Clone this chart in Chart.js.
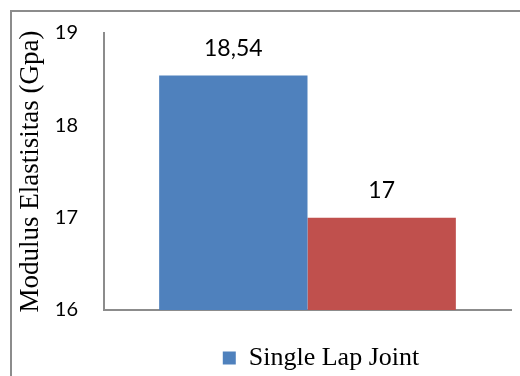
<!DOCTYPE html>
<html>
<head>
<meta charset="utf-8">
<script src="https://cdn.jsdelivr.net/npm/chart.js@4/dist/chart.umd.min.js"></script>
<style>
  html, body { margin: 0; padding: 0; background: #fff; overflow: hidden; width: 520px; height: 376px; }
  #frame { position: absolute; left: 10px; top: 10px; border: 2px solid #8c8c8c; width: 618px; height: 400px; }
  canvas { display: block; }
</style>
</head>
<body>
<div id="frame"><canvas id="c" width="618" height="400"></canvas></div>
<script>
// Categories and series
const categories = ['Modulus Elastisitas'];
const seriesNames = ['Single Lap Joint', 'Double Lap Joint'];
const singleLapValues = [18.54];
const doubleLapValues = [17];
const yTicks = [16, 17, 18, 19];

const serif = "'Liberation Serif', 'Times New Roman', serif";
const sans = "Lato, 'Open Sans', sans-serif";

// Writes each bar's value above it, with a decimal comma
const valueLabels = {
  id: 'valueLabels',
  afterDatasetsDraw(chart) {
    const ctx = chart.ctx;
    ctx.save();
    ctx.font = '23px ' + sans;
    ctx.fillStyle = '#000';
    ctx.textAlign = 'center';
    ctx.textBaseline = 'middle';
    chart.data.datasets.forEach((ds, di) => {
      chart.getDatasetMeta(di).data.forEach((bar, i) => {
        const txt = String(ds.data[i]).replace('.', ',');
        ctx.fillText(txt, bar.x, bar.y - 27);
      });
    });
    ctx.restore();
  }
};

new Chart(document.getElementById('c'), {
  type: 'bar',
  data: {
    labels: categories,
    datasets: [
      { label: seriesNames[0], data: singleLapValues, backgroundColor: '#4f81bd', borderWidth: 0 },
      { label: seriesNames[1], data: doubleLapValues, backgroundColor: '#c0504d', borderWidth: 0 }
    ]
  },
  options: {
    responsive: false,
    animation: false,
    devicePixelRatio: 1,
    categoryPercentage: 0.729,
    barPercentage: 1,
    layout: { padding: { left: 0, right: 0, top: 21, bottom: 31 } },
    plugins: {
      tooltip: { enabled: false },
      legend: {
        position: 'bottom',
        labels: {
          filter: item => item.datasetIndex === 0,
          font: { family: serif, size: 26 },
          color: '#000',
          boxWidth: 13,
          boxHeight: 13,
          padding: 35
        }
      }
    },
    scales: {
      x: {
        grid: { display: false, drawTicks: false },
        border: { display: true, color: '#8c8c8c', width: 2 },
        ticks: { display: false }
      },
      y: {
        min: yTicks[0],
        max: yTicks[yTicks.length - 1],
        afterBuildTicks: s => { s.ticks = yTicks.map(v => ({ value: v })); },
        afterFit: s => { s.width = 92; s.paddingTop = 12; s.paddingBottom = 12; },
        grid: { display: false, drawTicks: false },
        border: { display: true, color: '#8c8c8c', width: 2 },
        ticks: { color: '#000', font: { family: sans, size: 20 }, padding: 26 },
        title: {
          display: true,
          text: 'Modulus Elastisitas (Gpa)',
          color: '#000',
          font: { family: serif, size: 27 },
          padding: { top: 3, bottom: 7 }
        }
      },
      spacer: {
        type: 'linear',
        position: 'right',
        display: true,
        grid: { display: false, drawTicks: false },
        border: { display: false },
        ticks: { display: false },
        afterFit: s => { s.width = 119; }
      }
    }
  },
  plugins: [valueLabels]
});
</script>
</body>
</html>
